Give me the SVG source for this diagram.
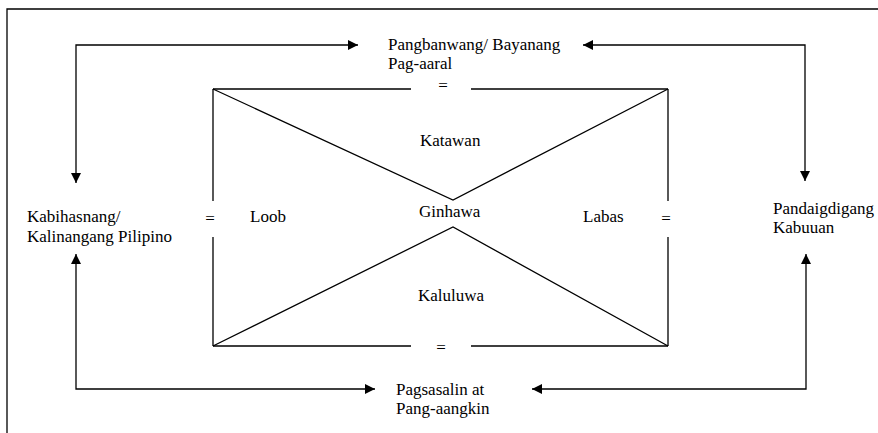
<svg xmlns="http://www.w3.org/2000/svg" width="878" height="433" viewBox="0 0 878 433">
  <style>
    .t { font-family: 'Liberation Serif', 'Times New Roman', Tinos, 'DejaVu Serif', serif; font-size: 17px; fill: #000; }
    .ln { fill: none; stroke: #000; stroke-width: 1.3; }
    .frame { fill: none; stroke: #000; stroke-width: 1.3; }
  </style>
  <defs>
    <marker id="tri" viewBox="0 0 10 10" refX="10" refY="5" markerWidth="10" markerHeight="10" markerUnits="userSpaceOnUse" orient="auto-start-reverse">
      <path d="M0,0 L10,5 L0,10 Z" fill="#000"/>
    </marker>
  </defs>

  <!-- outer frame (open at right and bottom) -->
  <path class="frame" d="M7,433 V9 H878"/>

  <!-- central figure: rectangle with crossing diagonals -->
  <g id="figure">
    <path class="ln" d="M213,89 H411 M471,89 H668"/>
    <path class="ln" d="M213,346 H411 M471,346 H668"/>
    <path class="ln" d="M213,89 V201 M213,237 V346"/>
    <path class="ln" d="M668,89 V201 M668,237 V346"/>
    <path class="ln" d="M213,89 L453,200 L668,89"/>
    <path class="ln" d="M213,346 L453,227 L668,346"/>
    <g class="t" font-family="Liberation Serif, serif" text-anchor="middle">
      <text x="443" y="91">=</text>
      <text x="441" y="353">=</text>
      <text x="210" y="224">=</text>
      <text x="666" y="224">=</text>
    </g>
  </g>

  <g id="katawan" class="t" font-family="Liberation Serif, serif"><text x="420" y="146">Katawan</text></g>
  <g id="ginhawa" class="t" font-family="Liberation Serif, serif"><text x="419" y="217">Ginhawa</text></g>
  <g id="kaluluwa" class="t" font-family="Liberation Serif, serif"><text x="418" y="301">Kaluluwa</text></g>
  <g id="loob" class="t" font-family="Liberation Serif, serif"><text x="250" y="222">Loob</text></g>
  <g id="labas" class="t" font-family="Liberation Serif, serif"><text x="583" y="222">Labas</text></g>

  <g id="pangbanwang" class="t" font-family="Liberation Serif, serif">
    <text x="388" y="50">Pangbanwang/ Bayanang</text>
    <text x="388" y="69">Pag-aaral</text>
  </g>
  <g id="kabihasnang" class="t" font-family="Liberation Serif, serif">
    <text x="27" y="222">Kabihasnang/</text>
    <text x="27" y="242">Kalinangang Pilipino</text>
  </g>
  <g id="pandaigdigang" class="t" font-family="Liberation Serif, serif">
    <text x="773" y="214">Pandaigdigang</text>
    <text x="773" y="233">Kabuuan</text>
  </g>
  <g id="pagsasalin" class="t" font-family="Liberation Serif, serif">
    <text x="396" y="395">Pagsasalin at</text>
    <text x="396" y="414">Pang-aangkin</text>
  </g>

  <!-- connectors -->
  <g id="connectors">
    <path class="ln" d="M76,183 V45 H358" marker-start="url(#tri)" marker-end="url(#tri)"/>
    <path class="ln" d="M583,45 H805 V181" marker-start="url(#tri)" marker-end="url(#tri)"/>
    <path class="ln" d="M76,254 V389 H375" marker-start="url(#tri)" marker-end="url(#tri)"/>
    <path class="ln" d="M532,389 H806 V254" marker-start="url(#tri)" marker-end="url(#tri)"/>
  </g>
</svg>
